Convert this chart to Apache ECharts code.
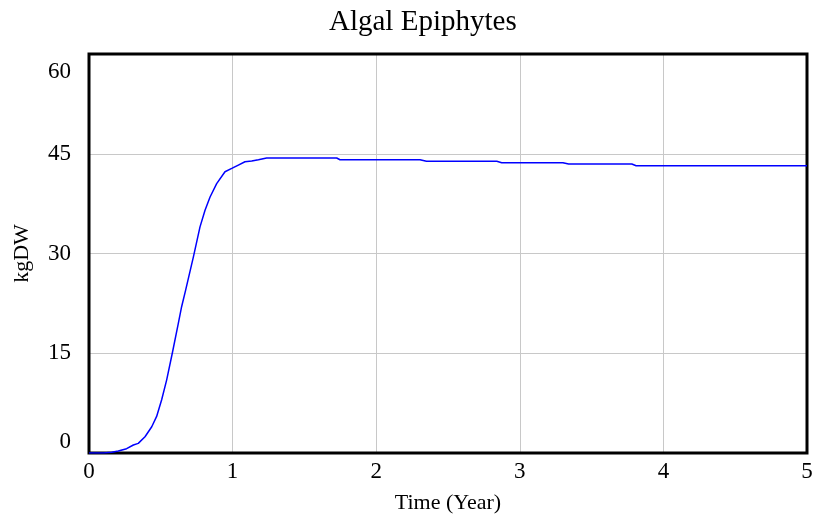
<!DOCTYPE html>
<html><head><meta charset="utf-8">
<script src="https://cdn.jsdelivr.net/npm/echarts@6/dist/echarts.min.js"></script>
<style>html,body{margin:0;padding:0;background:#fff}#c{width:816px;height:521px}</style>
</head><body><div id="c"></div>
<script>
var chartTitle = 'Algal Epiphytes';
var xName = 'Time (Year)';
var yName = 'kgDW';
var timeYears = [0, 0.10, 0.158, 0.204, 0.262, 0.309, 0.343, 0.39, 0.437, 0.471, 0.506, 0.541, 0.58, 0.622, 0.645, 0.673, 0.727, 0.773, 0.808, 0.843, 0.889, 0.947, 0.994, 1.04, 1.086, 1.133, 1.18, 1.237, 1.725, 1.748, 2.305, 2.35, 2.84, 2.874, 3.30, 3.34, 3.78, 3.81, 5.0];
var epiphytes = [0, 0, 0.1, 0.3, 0.65, 1.2, 1.45, 2.45, 3.95, 5.5, 8.0, 11.0, 15.0, 19.5, 22.0, 24.5, 29.5, 34.0, 36.5, 38.5, 40.5, 42.3, 42.8, 43.3, 43.8, 43.9, 44.1, 44.36, 44.36, 44.1, 44.1, 43.86, 43.86, 43.65, 43.65, 43.46, 43.46, 43.2, 43.2];
var xTicks = [0, 1, 2, 3, 4, 5];
var yTicks = [0, 15, 30, 45, 60];

var data = timeYears.map(function (t, i) { return [t, epiphytes[i]]; });
var font = 'Liberation Serif';
var yMax = yTicks[yTicks.length - 1];
var chart = echarts.init(document.getElementById('c'), null, {renderer: 'canvas'});
chart.setOption({
  animation: false,
  backgroundColor: '#fff',
  title: {text: chartTitle, left: 324, top: 3,
    textStyle: {fontFamily: font, fontSize: 29, fontWeight: 'normal', color: '#000'}},
  grid: {left: 89, right: 9, top: 54, bottom: 68, show: true, borderColor: '#000', borderWidth: 3, containLabel: false, z: 4},
  xAxis: {type: 'value', min: xTicks[0], max: xTicks[xTicks.length - 1], interval: 1,
    name: xName, nameLocation: 'middle', nameGap: 39,
    nameTextStyle: {fontFamily: font, fontSize: 22, color: '#000'},
    axisLine: {show: false}, axisTick: {show: false},
    axisLabel: {fontFamily: font, fontSize: 23, color: '#000', margin: 7},
    splitLine: {show: true, showMinLine: false, showMaxLine: false, lineStyle: {color: '#c8c8c8', width: 1}}},
  yAxis: {type: 'value', min: yTicks[0], max: yMax, interval: 15,
    name: yName, nameLocation: 'middle', nameGap: 56, nameRotate: 90,
    nameTextStyle: {fontFamily: font, fontSize: 22, color: '#000'},
    axisLine: {show: false}, axisTick: {show: false},
    axisLabel: {fontFamily: font, fontSize: 23, color: '#000', margin: 18,
      verticalAlignMinLabel: 'bottom', verticalAlignMaxLabel: 'top',
      formatter: function (v) { return v === yMax ? '{mx|' + v + '}' : String(v); },
      rich: {mx: {fontFamily: font, fontSize: 23, color: '#000', padding: [6, 0, 0, 0]}}},
    splitLine: {show: true, showMinLine: false, showMaxLine: false, lineStyle: {color: '#c8c8c8', width: 1}}},
  series: [{type: 'line', data: data, showSymbol: false, smooth: false,
    lineStyle: {color: '#0000ff', width: 1.5}, itemStyle: {color: '#0000ff'}, z: 6}]
});
</script></body></html>
